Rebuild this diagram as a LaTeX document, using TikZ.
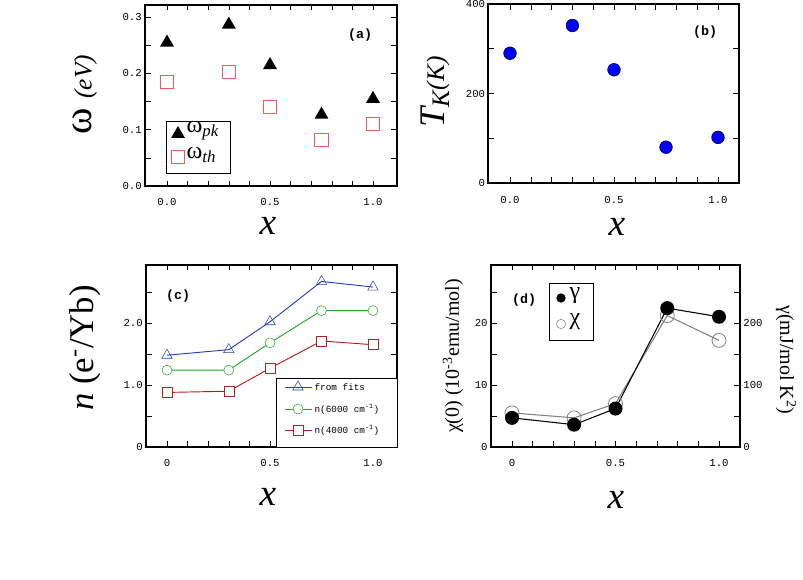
\documentclass[tikz,border=0pt]{standalone}
\usepackage{fontspec}
\setmainfont{Liberation Serif}
\setmonofont{Liberation Mono}
\usetikzlibrary{shapes.geometric}

\definecolor{sqred}{rgb}{0.95,0.35,0.35}
\definecolor{fitblue}{rgb}{0.15,0.25,0.7}
\definecolor{nsixgreen}{rgb}{0.15,0.65,0.15}
\definecolor{nfourred}{rgb}{0.7,0.12,0.12}

\begin{document}
\begin{tikzpicture}[x={(0.75pt,0)}, y={(0,-0.75pt)},
  frame/.style={draw, line width=0.9pt},
  ticklab/.style={font=\ttfamily\fontsize{8}{9}\selectfont, inner sep=1pt},
  axlab/.style={font=\fontsize{28}{30}\selectfont\itshape},
  panlab/.style={font=\ttfamily\bfseries\fontsize{10}{12}\selectfont},
  legtxt/.style={anchor=west, font=\fontsize{18}{20}\selectfont, inner sep=1pt},
  tri/.style={regular polygon, regular polygon sides=3, fill=black, inner sep=0pt, minimum size=12pt},
  sq/.style={draw=sqred, line width=0.6pt, inner sep=0pt, minimum size=10pt},
  bdot/.style={circle, draw=black, fill=blue, inner sep=0pt, minimum size=9.5pt},
  otri/.style={regular polygon, regular polygon sides=3, draw=fitblue, inner sep=0pt, minimum size=9pt},
  ocirc/.style={circle, draw=nsixgreen, fill=white, inner sep=0pt, minimum size=7.5pt},
  osq/.style={draw=nfourred, fill=white, inner sep=0pt, minimum size=7.5pt},
  gdot/.style={circle, fill=black, inner sep=0pt, minimum size=10.5pt},
  gcirc/.style={circle, draw=gray, line width=0.6pt, inner sep=0pt, minimum size=10.5pt}
]
\useasboundingbox (0,0) rectangle (803,580);

% --- Panel (a) ---------------------------------------------------------------
\draw[frame] (145,5) rectangle (397,186);
\begin{scope}[shift={(167,186)}, x={(154.5pt,0)}, y={(0,422pt)}]
  \foreach \t in {0,0.1,...,1.05}
    {\draw (\t,0) -- ++(0,0.008); \draw (\t,0.3215) -- ++(0,-0.008);}
  \foreach \t in {0,0.05,...,0.31}
    {\draw (-0.107,\t) -- ++(0.03,0); \draw (1.117,\t) -- ++(-0.03,0);}
  \foreach \t/\l in {0/0.0,0.1/0.1,0.2/0.2,0.3/0.3}
    \node[ticklab, anchor=east] (ay\l) at (-0.115,\t) {\l};
  \foreach \t/\l in {0/0.0,0.5/0.5,1/1.0}
    \node[ticklab] (ax\l) at (\t,-0.028) {\l};
  \foreach \px/\py in {0/0.255,0.3/0.287,0.5/0.215,0.75/0.127,1/0.155}
    \node[tri] (apk\px) at (\px,\py) {};
  \foreach \px/\py in {0/0.185,0.3/0.203,0.5/0.140,0.75/0.082,1/0.110}
    \node[sq] (ath\px) at (\px,\py) {};
\end{scope}
\node[panlab] (pa) at (360,35) {(a)};
\draw[line width=0.7pt] (166,121) rectangle (230,173);
\node[tri] (legpk) at (178,134) {};
\node[legtxt] (legpkt) at (185,131) {ω\textsubscript{\itshape pk}};
\node[sq] (legth) at (178,157) {};
\node[legtxt] (legtht) at (185,155) {ω\textsubscript{\itshape th}};
\node[axlab] (axa) at (268,226) {x};
\node[rotate=90, font=\fontsize{30}{32}\selectfont] (aya) at (85,95) {ω \textit{\fontsize{19}{20}\selectfont(eV)}};

% --- Panel (b) ---------------------------------------------------------------
\draw[frame] (488,4) rectangle (739,183);
\begin{scope}[shift={(510,183)}, x={(156pt,0)}, y={(0,33.56pt)}]
  \foreach \t in {0,0.1,...,1.05}
    {\draw (\t,0) -- ++(0,0.13); \draw (\t,4) -- ++(0,-0.13);}
  \foreach \t in {0,1,...,4}
    {\draw (-0.106,\t) -- ++(0.03,0); \draw (1.1,\t) -- ++(-0.03,0);}
  \foreach \t/\l in {0/0,2/200,4/400}
    \node[ticklab, anchor=east] (by\l) at (-0.112,\t) {\l};
  \foreach \t/\l in {0/0.0,0.5/0.5,1/1.0}
    \node[ticklab] (bx\l) at (\t,-0.38) {\l};
  \foreach \px/\py in {0/2.90,0.3/3.52,0.5/2.53,0.75/0.80,1/1.02}
    \node[bdot] (bk\px) at (\px,\py) {};
\end{scope}
\node[panlab] (pb) at (705,32) {(b)};
\node[axlab] (axb) at (617,227) {x};
\node[rotate=90, font=\fontsize{27}{28}\selectfont\itshape] (ayb) at (435,92) {T\textsubscript{K}\fontsize{19}{20}\selectfont(K)};

% --- Panel (c) ---------------------------------------------------------------
\draw[frame] (146,265) rectangle (397,447);
\begin{scope}[shift={(167,447)}, x={(154.5pt,0)}, y={(0,46.5pt)}]
  \foreach \t in {0,0.1,...,1.05}
    {\draw (\t,0) -- ++(0,0.09); \draw (\t,2.94) -- ++(0,-0.09);}
  \foreach \t in {0,0.5,...,2.6}
    {\draw (-0.102,\t) -- ++(0.03,0); \draw (1.117,\t) -- ++(-0.03,0);}
  \foreach \t/\l in {0/0,1/1.0,2/2.0}
    \node[ticklab, anchor=east] (cy\l) at (-0.11,\t) {\l};
  \foreach \t/\l in {0/0,0.5/0.5,1/1.0}
    \node[ticklab] (cx\l) at (\t,-0.25) {\l};
  \draw[fitblue, line width=0.7pt] (0,1.48) -- (0.3,1.57) -- (0.5,2.02) -- (0.75,2.67) -- (1,2.58);
  \draw[nsixgreen, line width=0.7pt] (0,1.24) -- (0.3,1.24) -- (0.5,1.68) -- (0.75,2.2) -- (1,2.2);
  \draw[nfourred, line width=0.7pt] (0,0.88) -- (0.3,0.9) -- (0.5,1.27) -- (0.75,1.71) -- (1,1.65);
  \foreach \px/\py in {0/1.48,0.3/1.57,0.5/2.02,0.75/2.67,1/2.58}
    \node[otri] (cf\px) at (\px,\py) {};
  \foreach \px/\py in {0/1.24,0.3/1.24,0.5/1.68,0.75/2.2,1/2.2}
    \node[ocirc] (cs\px) at (\px,\py) {};
  \foreach \px/\py in {0/0.88,0.3/0.9,0.5/1.27,0.75/1.71,1/1.65}
    \node[osq] (cq\px) at (\px,\py) {};
\end{scope}
\node[panlab] (pc) at (178,296) {(c)};
\draw[fill=white, line width=0.7pt] (276,378) rectangle (397,447);
\foreach \r/\c/\m/\l in {387/fitblue/otri/from fits,
    409/nsixgreen/ocirc/n(6000 cm\textsuperscript{-1}),
    430/nfourred/osq/n(4000 cm\textsuperscript{-1})}
  {\draw[\c, line width=0.7pt] (285,\r) -- (312,\r);
   \node[\m] (lm\r) at (298,\r) {};
   \node[anchor=west, font=\ttfamily\fontsize{7}{8}\selectfont, inner sep=1pt] (lt\r) at (313,\r) {\l};}
\node[axlab] (axc) at (268,497) {x};
\node[rotate=90, font=\fontsize{26}{28}\selectfont] (ayc) at (85,348) {\textit{n} (e\textsuperscript{-}/Yb)};

% --- Panel (d) ---------------------------------------------------------------
\draw[frame] (491,265) rectangle (740,447);
\begin{scope}[shift={(512,447)}, x={(155.25pt,0)}, y={(0,4.65pt)}]
  \foreach \t in {0,0.1,...,1.05}
    {\draw (\t,0) -- ++(0,0.9); \draw (\t,29.4) -- ++(0,-0.9);}
  \foreach \t in {0,5,...,26}
    {\draw (-0.101,\t) -- ++(0.03,0); \draw (1.1,\t) -- ++(-0.03,0);}
  \foreach \t/\l in {0/0,10/10,20/20}
    \node[ticklab, anchor=east] (dy\l) at (-0.11,\t) {\l};
  \foreach \t/\l in {0/0,10/100,20/200}
    \node[ticklab, anchor=west] (dr\l) at (1.11,\t) {\l};
  \foreach \t/\l in {0/0,0.5/0.5,1/1.0}
    \node[ticklab] (dx\l) at (\t,-2.5) {\l};
  \draw[gray, line width=0.8pt] (0,5.5) -- (0.3,4.7) -- (0.5,7.0) -- (0.75,21.2) -- (1,17.2);
  \draw[line width=0.8pt] (0,4.7) -- (0.3,3.6) -- (0.5,6.2) -- (0.75,22.4) -- (1,21.0);
  \foreach \px/\py in {0/5.5,0.3/4.7,0.5/7.0,0.75/21.2,1/17.2}
    \node[gcirc] (dc\px) at (\px,\py) {};
  \foreach \px/\py in {0/4.7,0.3/3.6,0.5/6.2,0.75/22.4,1/21.0}
    \node[gdot] (dg\px) at (\px,\py) {};
\end{scope}
\node[panlab] (pd) at (524,300) {(d)};
\draw[line width=0.7pt] (549,283) rectangle (593,340);
\node[circle, fill=black, inner sep=0pt, minimum size=7pt] (legg) at (561,298) {};
\node[legtxt] (leggt) at (568,296) {γ};
\node[circle, draw=gray, inner sep=0pt, minimum size=7pt] (legc) at (561,324) {};
\node[legtxt] (legct) at (568,322) {χ};
\node[axlab] (axd) at (616,500) {x};
\node[rotate=90, font=\fontsize{15}{16}\selectfont] (ayd) at (453,356) {χ(0) (10\textsuperscript{-3}emu/mol)};
\node[rotate=-90, font=\fontsize{15}{16}\selectfont] (ayr) at (786,360) {γ(mJ/mol K\textsuperscript{2})};
\end{tikzpicture}
\end{document}
